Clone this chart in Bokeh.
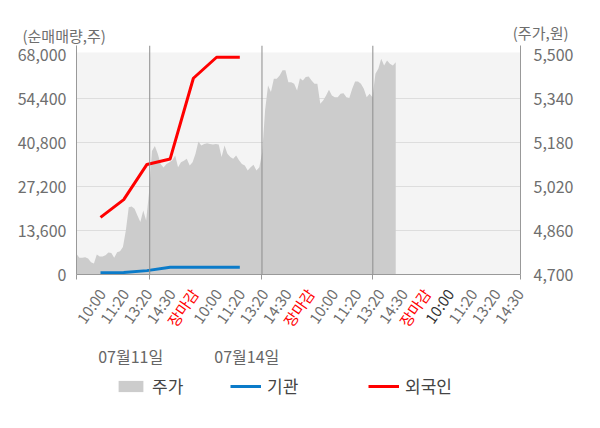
import numpy as np
from bokeh.plotting import figure
from bokeh.layouts import column
from bokeh.models import (Range1d, LinearAxis, FixedTicker, Label, Legend, LegendItem,
                          Span, BoxAnnotation, NumeralTickFormatter)
from bokeh.embed import file_html
from bokeh.resources import INLINE

FONT = "Noto Sans CJK KR"

# ---- data ----
X_LABELS = ["10:00", "11:20", "13:20", "14:30", "장마감",
            "10:00", "11:20", "13:20", "14:30", "장마감",
            "10:00", "11:20", "13:20", "14:30", "장마감",
            "10:00", "11:20", "13:20", "14:30"]
X_LABEL_KIND = ["n", "n", "n", "n", "close",
                "n", "n", "n", "n", "close",
                "n", "n", "n", "n", "close",
                "today", "n", "n", "n"]
DATE_LABELS = ["07월11일", "07월14일"]
DATE_POS = [1.3, 6.3]
DAY_BREAKS = [2.12, 6.955, 11.73]

FOREIGN = [17700, 23200, 34100, 35800, 60800, 67300, 67300]   # 외국인
INST = [530, 620, 1200, 2250, 2250, 2250, 2250]                # 기관

PRICE = [4775, 4761, 4761, 4763, 4758, 4745, 4740, 4773, 4766, 4766,
         4770, 4780, 4778, 4761, 4781, 4785, 4800, 4860, 4945, 4948,
         4940, 4915, 4891, 4933, 4897, 5000, 5150, 5168, 5140, 5103,
         5090, 5103, 5109, 5116, 5134, 5091, 5109, 5115, 5122, 5097,
         5109, 5140, 5185, 5170, 5176, 5178, 5176, 5174, 5176, 5174,
         5128, 5170, 5140, 5128, 5122, 5134, 5116, 5103, 5097, 5079,
         5091, 5100, 5079, 5091, 5146, 5300, 5389, 5365, 5413, 5413,
         5425, 5444, 5444, 5401, 5401, 5395, 5371, 5415, 5407, 5420,
         5422, 5407, 5395, 5395, 5322, 5334, 5352, 5373, 5352, 5346,
         5346, 5359, 5361, 5346, 5343, 5377, 5403, 5403, 5395, 5377,
         5346, 5359, 5346, 5432, 5450, 5486, 5462, 5480, 5468, 5462,
         5474]

LEFT_TICKS = [0, 13600, 27200, 40800, 54400, 68000]
RIGHT_TICKS = [4700, 4860, 5020, 5180, 5340, 5500]

# ---- layout / scales ----
W = 596
BORDER_L, BORDER_R = 76, 76
FRAME_W = W - BORDER_L - BORDER_R
MAIN_TOP, MAIN_FRAME_H, MAIN_BOTTOM, BOTTOM_H = 45, 229, 10, 124

X_LEFT, X_RIGHT = -1.034, 18.09
SLOT_PX = FRAME_W / (X_RIGHT - X_LEFT)
PRICE_STEP = 0.125
L_TOP = 70943
R_BOTTOM, R_TOP = 4700, 5534.6
BG_TOP = 68775

GRAY_TXT = "#6e6e6e"
AXIS_COL = "#999999"
PRICE_COL, INST_COL, FOR_COL = "#cccccc", "#0b7bc9", "#ff0000"

x_range = Range1d(X_LEFT, X_RIGHT)

# ---- main chart ----
p = figure(width=W, height=MAIN_TOP + MAIN_FRAME_H + MAIN_BOTTOM, title=None,
           output_backend="svg", toolbar_location=None,
           x_range=x_range, y_range=Range1d(0, L_TOP),
           min_border_left=BORDER_L, min_border_right=BORDER_R,
           min_border_top=MAIN_TOP, min_border_bottom=MAIN_BOTTOM)
p.extra_y_ranges = {"price": Range1d(R_BOTTOM, R_TOP)}
p.background_fill_color = "white"
p.border_fill_color = "white"
p.outline_line_color = None

# axis titles in the top side panel (side panels are not clipped to the frame)
p.add_layout(Label(x=22 - BORDER_L, y=0, x_units="screen", y_units="screen",
                   text="(순매매량,주)", text_align="left", text_baseline="bottom",
                   text_font=FONT, text_font_size="15px", text_color=GRAY_TXT), "above")
p.add_layout(Label(x=568 - BORDER_L, y=-18, x_units="screen", y_units="screen",
                   text="(주가,원)", text_align="right", text_baseline="bottom",
                   text_font=FONT, text_font_size="15px", text_color=GRAY_TXT), "above")

p.add_layout(BoxAnnotation(top=BG_TOP, fill_color="#f4f4f4", fill_alpha=1,
                           line_color=None, level="image"))

px = X_LEFT + np.arange(len(PRICE)) * PRICE_STEP
p.varea(x=px, y1=R_BOTTOM, y2=PRICE, y_range_name="price", fill_color=PRICE_COL, fill_alpha=1)

for b in DAY_BREAKS:
    p.add_layout(Span(location=b, dimension="height", line_color="#8c8c8c", line_width=1))

xs = list(range(len(FOREIGN)))
p.line(xs, INST, line_color=INST_COL, line_width=3)
p.line(xs, FOREIGN, line_color=FOR_COL, line_width=3, line_join="round")

p.xgrid.visible = False
p.ygrid.ticker = FixedTicker(ticks=LEFT_TICKS[1:-1])
p.ygrid.grid_line_color = "#dddddd"

xa = p.xaxis[0]
xa.ticker = FixedTicker(ticks=[], minor_ticks=[X_LEFT] + DAY_BREAKS + [X_RIGHT])
xa.major_tick_line_color = None
xa.minor_tick_in = 0
xa.minor_tick_out = 5
xa.minor_tick_line_color = AXIS_COL
xa.axis_line_color = AXIS_COL

ya = p.yaxis[0]
ya.ticker = FixedTicker(ticks=LEFT_TICKS)
ya.formatter = NumeralTickFormatter(format="0,0")
ya.major_tick_line_color = None
ya.minor_tick_line_color = None
ya.axis_line_color = AXIS_COL
ya.major_label_text_font = FONT
ya.major_label_text_font_size = "16px"
ya.major_label_text_color = GRAY_TXT
ya.major_label_standoff = 4

ra = LinearAxis(y_range_name="price", ticker=FixedTicker(ticks=RIGHT_TICKS),
                formatter=NumeralTickFormatter(format="0,0"))
ra.major_tick_line_color = None
ra.minor_tick_line_color = None
ra.axis_line_color = AXIS_COL
ra.major_label_text_font = FONT
ra.major_label_text_font_size = "16px"
ra.major_label_text_color = GRAY_TXT
ra.major_label_standoff = 7
p.add_layout(ra, "right")

# ---- bottom strip: time labels, dates, legend (same x scale) ----
bot = figure(width=W, height=BOTTOM_H, title=None, output_backend="svg", toolbar_location=None,
             x_axis_location=None, y_axis_location=None, min_border=0,
             y_range=Range1d(0, 1))
try:
    bot.frame_align = False
    p.frame_align = False
    ALIGNED = False
except Exception:
    ALIGNED = True

if ALIGNED:
    bot.x_range = x_range
    bot.min_border_left = BORDER_L
    bot.min_border_right = BORDER_R
    LEG_X0 = BORDER_L
else:
    bot.x_range = Range1d(X_LEFT - BORDER_L / SLOT_PX, X_RIGHT + BORDER_R / SLOT_PX)
    LEG_X0 = 0
bot.outline_line_color = None
bot.grid.visible = False

kind_color = {"n": GRAY_TXT, "close": "#ff0000", "today": "#333333"}
for k, (txt, kind) in enumerate(zip(X_LABELS, X_LABEL_KIND)):
    bot.add_layout(Label(x=k, y=BOTTOM_H - 6, x_units="data", y_units="screen", x_offset=1,
                         text=txt, angle=np.deg2rad(55), text_align="right",
                         text_baseline="middle", text_font=FONT, text_font_size="15px",
                         text_color=kind_color[kind]))

for txt, pos in zip(DATE_LABELS, DATE_POS):
    bot.add_layout(Label(x=pos, y=53, x_units="data", y_units="screen", text=txt,
                         text_align="center", text_baseline="middle", text_font=FONT,
                         text_font_size="16px", text_color="#666666"))

# legend swatches: hidden copies of the series in this strip carry the styles
lg_price = bot.varea(x=px, y1=R_BOTTOM, y2=PRICE, fill_color=PRICE_COL, fill_alpha=1, visible=False)
lg_inst = bot.line(xs, INST, line_color=INST_COL, line_width=3, visible=False)
lg_for = bot.line(xs, FOREIGN, line_color=FOR_COL, line_width=3, visible=False)


def add_legend(renderer, label, x):
    lg = Legend(items=[LegendItem(label=label, renderers=[renderer])], location=(x, 10),
                orientation="horizontal", border_line_color=None, background_fill_alpha=0,
                inactive_fill_alpha=0, padding=0, margin=0, glyph_width=31, glyph_height=14,
                label_height=14, label_standoff=6, label_text_font=FONT,
                label_text_font_size="17px", label_text_color="#444444")
    bot.add_layout(lg)


add_legend(lg_price, "주가", 115 - LEG_X0)
add_legend(lg_inst, "기관", 230 - LEG_X0)
add_legend(lg_for, "외국인", 368 - LEG_X0)

layout = column(p, bot, spacing=0)
open("out.html", "w").write(file_html(layout, INLINE))
